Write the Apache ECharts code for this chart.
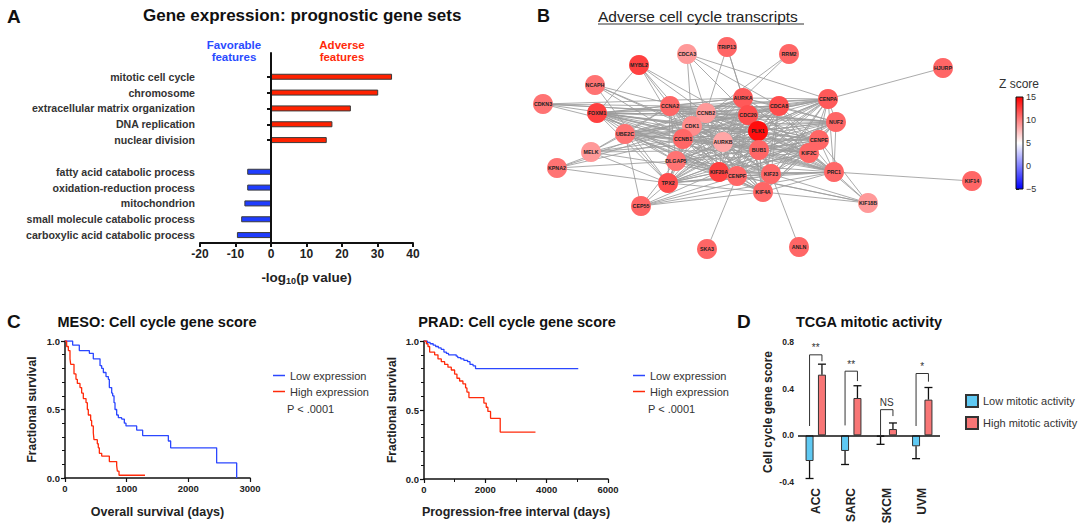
<!DOCTYPE html>
<html><head><meta charset="utf-8">
<script src="https://cdn.jsdelivr.net/npm/echarts@6/dist/echarts.min.js"></script>
<style>html,body{margin:0;padding:0;background:#fff}#c{width:1080px;height:527px}</style>
</head><body><div id="c"></div>
<script>
const FONT = 'Liberation Sans, Arial, Helvetica, sans-serif';

// ---------- Panel A: prognostic gene sets ----------
const goTerms = [' ', 'mitotic cell cycle', 'chromosome', 'extracellular matrix organization', 'DNA replication', 'nuclear division', '  ',
  'fatty acid catabolic process', 'oxidation-reduction process', 'mitochondrion', 'small molecule catabolic process', 'carboxylic acid catabolic process'];
const goLogP = ['-', 34.1, 30.2, 22.5, 17.3, 15.7, '-', -6.7, -6.7, -7.5, -8.4, -9.6];
const goTicks = [-20, -10, 0, 10, 20, 30, 40];

// ---------- Panel B: network ----------
const geneNames = ['MYBL2','CDCA3','TRIP13','RRM2','HJURP','NCAPH','CDKN3','FOXM1','CCNA2','CCNB2','AURKA','CDC20','CDCA8','CENPA','NUF2','CDK1','UBE2C','CCNB1','AURKB','PLK1','BUB1','CENPE','KIF2C','MELK','DLGAP5','KPNA2','KIF20A','CENPF','TPX2','KIF23','KIF4A','PRC1','KIF14','KIF18B','CEP55','SKA3','ANLN'];
const geneX = [639,687,727,789,943,595,543,597,670,706,743,748,779,828,836,692,625,683,723,758,759,819,809,591,676,557,719,737,668,771,763,834,972,868,641,707,799];
const geneY = [65,54,47,54,68,85,104,113,106,113,98,115,106,99,122,126,134,139,142,131,150,140,153,152,161,168,172,176,183,174,192,172,181,203,206,249,247];
const geneZ = [12.5,9,11,11,11,10.5,10.5,12.5,11,9,11.5,12,12,11.5,11,9.5,10.5,11,8.5,14.5,11,11,11,9,10.5,10.5,12.5,11,12,11,11,11,11,9,11,11,11];
// genes that are all mutually linked in the central cluster
const coreGenes = ['CCNA2','CCNB2','CDK1','CCNB1','AURKA','CDC20','PLK1','BUB1','AURKB','CDCA8','CENPA','NUF2','CENPE','KIF2C','KIF20A','CENPF','KIF23','DLGAP5','TPX2','UBE2C','KIF4A','FOXM1','PRC1'];
const extraLinks = [
  ['MYBL2','FOXM1'],['MYBL2','CCNA2'],['MYBL2','CDK1'],['MYBL2','CCNB1'],['MYBL2','CCNB2'],['MYBL2','PLK1'],
  ['CDCA3','CCNB2'],['CDCA3','CDK1'],['CDCA3','CDC20'],['CDCA3','CDCA8'],['CDCA3','CENPA'],
  ['TRIP13','CCNB2'],['TRIP13','AURKA'],['TRIP13','CDC20'],
  ['RRM2','AURKA'],['RRM2','CDK1'],
  ['HJURP','CENPA'],
  ['NCAPH','CCNB2'],['NCAPH','CDK1'],['NCAPH','AURKB'],['NCAPH','CCNB1'],['NCAPH','TPX2'],
  ['CDKN3','CCNA2'],['CDKN3','CDK1'],['CDKN3','CCNB2'],['CDKN3','CDC20'],['CDKN3','AURKA'],['CDKN3','CCNB1'],
  ['MELK','CCNB1'],['MELK','CDK1'],['MELK','AURKB'],['MELK','TPX2'],['MELK','KIF20A'],['MELK','BUB1'],['MELK','UBE2C'],['MELK','CCNA2'],
  ['KPNA2','TPX2'],['KPNA2','CCNB1'],['KPNA2','CDK1'],['KPNA2','DLGAP5'],['KPNA2','AURKA'],
  ['CEP55','TPX2'],['CEP55','KIF20A'],['CEP55','DLGAP5'],['CEP55','CENPF'],['CEP55','KIF23'],['CEP55','KIF4A'],['CEP55','UBE2C'],['CEP55','PRC1'],
  ['SKA3','CENPF'],['ANLN','KIF23'],['KIF14','PRC1'],
  ['KIF18B','PRC1'],['KIF18B','KIF4A'],['KIF18B','KIF23'],['KIF18B','CENPE'],['KIF18B','KIF2C'],['KIF18B','KIF20A'],['KIF18B','CENPF']
];
const zRange = [-5, 15];

// ---------- Panel C: Kaplan-Meier ----------
const mesoLowDays = [0,124,232,395,459,568,595,622,665,703,719,757,773,795,811,838,865,919,962,989,1162,1259,1676,1713,2459,2784];
const mesoLowSurv = [1,0.97,0.93,0.91,0.87,0.82,0.80,0.77,0.74,0.72,0.66,0.62,0.60,0.55,0.50,0.46,0.44,0.43,0.40,0.38,0.35,0.31,0.27,0.22,0.11,0];
const mesoHighDays = [0,27,54,81,92,146,178,200,243,270,297,341,362,378,416,432,459,470,524,540,557,595,719,838,849,876,1297];
const mesoHighSurv = [1,0.96,0.93,0.87,0.83,0.76,0.72,0.69,0.66,0.62,0.58,0.55,0.50,0.46,0.42,0.38,0.33,0.28,0.25,0.22,0.18,0.16,0.12,0.09,0.05,0.02,0.02];
const pradLowDays = [0,110,200,300,380,470,560,650,730,800,1050,1100,1200,1300,1420,1500,1600,1680,5030];
const pradLowSurv = [1,0.99,0.98,0.97,0.96,0.95,0.94,0.92,0.91,0.90,0.89,0.88,0.87,0.86,0.85,0.83,0.82,0.80,0.80];
const pradHighDays = [0,76,130,184,347,456,564,673,781,890,998,1074,1161,1269,1356,1400,1465,1953,2029,2083,2170,2485,3635];
const pradHighSurv = [1,0.98,0.96,0.92,0.90,0.87,0.85,0.83,0.81,0.79,0.76,0.73,0.71,0.69,0.66,0.63,0.59,0.55,0.52,0.49,0.44,0.34,0.34];

// ---------- Panel D: TCGA mitotic activity ----------
const tcgaTypes = ['ACC', 'SARC', 'SKCM', 'UVM'];
const lowMean = [-0.22, -0.134, -0.014, -0.094];
const lowSem = [0.15, 0.116, 0.063, 0.106];
const highMean = [0.52, 0.32, 0.054, 0.306];
const highSem = [0.09, 0.105, 0.052, 0.104];
const bracketTop = [0.69, 0.55, 0.22, 0.53];
const bracketLeftFoot = [0.08, 0.085, -0.01, 0.08];
const bracketRightFoot = [0.635, 0.465, 0.165, 0.46];
const sigLabels = ['**', '**', 'NS', '*'];

// ---------- helpers ----------
function zColor(z) {
  const mid = (zRange[0] + zRange[1]) / 2;
  if (z >= mid) {
    const t = Math.min(1, (z - mid) / (zRange[1] - mid));
    const g = Math.round(255 * (1 - t));
    return 'rgb(255,' + g + ',' + g + ')';
  }
  const t = Math.min(1, (mid - z) / (mid - zRange[0]));
  const g = Math.round(255 * (1 - t));
  return 'rgb(' + g + ',' + g + ',255)';
}
const zip = (a, b) => a.map((v, i) => [v, b[i]]);

const links = [];
for (let i = 0; i < coreGenes.length; i++)
  for (let j = i + 1; j < coreGenes.length; j++) links.push({ source: coreGenes[i], target: coreGenes[j] });
extraLinks.forEach(p => links.push({ source: p[0], target: p[1] }));

const BLUE = '#2b47ff', RED = '#ff2a0a';
const axisBlack = { lineStyle: { color: '#111', width: 1.5 } };
const boldLab = (size) => ({ fontFamily: FONT, fontWeight: 'bold', fontSize: size, color: '#222' });
const BAR_W = 8, BAR_GAP = 0.55;
const barOffset = (BAR_W + BAR_W * BAR_GAP) / 2;
const plain = v => String(v);

function txt(text, x, y, font, fill, align) {
  return { type: 'text', x: x, y: y, silent: true,
    style: { text: text, font: font, fill: fill || '#111', textAlign: align || 'left', textVerticalAlign: 'middle', align: align || 'left', verticalAlign: 'middle' } };
}

const chart = echarts.init(document.getElementById('c'), null, { renderer: 'svg', width: 1080, height: 527 });

const gridBase = { containLabel: false, outerBoundsMode: 'none' };

const option = {
  animation: false,
  backgroundColor: '#fff',
  textStyle: { fontFamily: FONT },
  grid: [
    Object.assign({ left: 200, top: 53, width: 213, height: 190 }, gridBase),
    Object.assign({ left: 520, top: 30, width: 480, height: 240 }, gridBase),
    Object.assign({ left: 1016, top: 97, width: 7, height: 92 }, gridBase),
    Object.assign({ left: 65, top: 341, width: 185, height: 137 }, gridBase),
    Object.assign({ left: 424, top: 341, width: 184, height: 138 }, gridBase),
    Object.assign({ left: 798, top: 342, width: 142, height: 140 }, gridBase)
  ],
  xAxis: [
    { type: 'value', gridIndex: 0, min: goTicks[0], max: goTicks[goTicks.length - 1], interval: 10,
      splitLine: { show: false },
      axisLine: { show: true, lineStyle: { color: '#111', width: 2 } },
      axisTick: { show: true, length: 4, lineStyle: { color: '#111', width: 2 } },
      axisLabel: Object.assign(boldLab(12), { margin: 5 }),
      name: '{a|-log}{s|10}{a|(p value)}', nameLocation: 'middle', nameGap: 26,
      nameTextStyle: { rich: {
        a: { fontFamily: FONT, fontWeight: 'bold', fontSize: 13.5, color: '#222' },
        s: { fontFamily: FONT, fontWeight: 'bold', fontSize: 9, color: '#222', padding: [7, 0, 0, 0] } } } },
    { type: 'value', gridIndex: 1, min: 520, max: 1000, show: false },
    { type: 'value', gridIndex: 2, min: 0, max: 1, show: false },
    { type: 'value', gridIndex: 3, min: 0, max: 3000, interval: 1000, splitLine: { show: false },
      axisLine: axisBlack, axisTick: { length: 4, lineStyle: { color: '#111', width: 1.2 } },
      minorTick: { show: false },
      axisLabel: Object.assign(boldLab(9.5), { margin: 5, formatter: plain }),
      name: 'Overall survival (days)', nameLocation: 'middle', nameGap: 27, nameTextStyle: boldLab(12.5) },
    { type: 'value', gridIndex: 4, min: 0, max: 6000, interval: 2000, splitLine: { show: false },
      axisLine: axisBlack, axisTick: { length: 4, lineStyle: { color: '#111', width: 1.2 } },
      minorTick: { show: true, splitNumber: 2, length: 3, lineStyle: { color: '#111', width: 1 } },
      axisLabel: Object.assign(boldLab(9.5), { margin: 5, formatter: plain }),
      name: 'Progression-free interval (days)', nameLocation: 'middle', nameGap: 26, nameTextStyle: boldLab(12.5) },
    { type: 'category', gridIndex: 5, data: tcgaTypes, position: 'bottom',
      axisLine: { show: false, onZero: false }, axisTick: { show: false },
      axisLabel: Object.assign(boldLab(12), { rotate: 90, margin: 6 }) }
  ],
  yAxis: [
    { type: 'category', gridIndex: 0, data: goTerms, inverse: true,
      axisLine: { show: true, lineStyle: { color: '#111', width: 2 } },
      axisTick: { show: true, length: 4, alignWithLabel: true, interval: (i, v) => String(v).trim() !== '', lineStyle: { color: '#111', width: 2 } },
      axisLabel: Object.assign(boldLab(10.6), { color: '#333', margin: 5, interval: 0 }) },
    { type: 'value', gridIndex: 1, min: 30, max: 270, inverse: true, show: false },
    { type: 'value', gridIndex: 2, min: zRange[0], max: zRange[1], interval: 5, position: 'right',
      splitLine: { show: false }, axisLine: { show: false },
      axisTick: { show: true, length: 3, lineStyle: { color: '#222', width: 1 } },
      axisLabel: { fontFamily: FONT, fontSize: 9, color: '#333', margin: 3, formatter: v => v < 0 ? '\u2212' + Math.abs(v) : String(v) } },
    { type: 'value', gridIndex: 3, min: 0, max: 1, interval: 0.5, splitLine: { show: false },
      axisLine: axisBlack, axisTick: { length: 4, lineStyle: { color: '#111', width: 1.2 } },
      minorTick: { show: true, splitNumber: 5, length: 3, lineStyle: { color: '#111', width: 1 } },
      axisLabel: Object.assign(boldLab(9.5), { margin: 5, formatter: v => v.toFixed(1) }),
      name: 'Fractional survival', nameLocation: 'middle', nameRotate: 90, nameGap: 27, nameTextStyle: boldLab(12) },
    { type: 'value', gridIndex: 4, min: 0, max: 1, interval: 0.5, splitLine: { show: false },
      axisLine: axisBlack, axisTick: { length: 4, lineStyle: { color: '#111', width: 1.2 } },
      minorTick: { show: true, splitNumber: 5, length: 3, lineStyle: { color: '#111', width: 1 } },
      axisLabel: Object.assign(boldLab(9.5), { margin: 5, formatter: v => v.toFixed(1) }),
      name: 'Fractional survival', nameLocation: 'middle', nameRotate: 90, nameGap: 26, nameTextStyle: boldLab(12) },
    { type: 'value', gridIndex: 5, min: -0.4, max: 0.8, interval: 0.4, splitLine: { show: false },
      axisLine: axisBlack, axisTick: { length: 4, lineStyle: { color: '#111', width: 1.2 } },
      axisLabel: Object.assign(boldLab(8.5), { margin: 4, formatter: v => v.toFixed(1) }),
      name: 'Cell cycle gene score', nameLocation: 'middle', nameRotate: 90, nameGap: 24, nameTextStyle: boldLab(12) }
  ],
  legend: [
    { left: 268, top: 365, orient: 'vertical', selectedMode: false, data: ['Low expression', 'High expression'],
      icon: 'rect', itemWidth: 12, itemHeight: 1.5, itemGap: 5, textStyle: { fontFamily: FONT, fontSize: 11, color: '#333' } },
    { left: 628, top: 365, orient: 'vertical', selectedMode: false, data: ['Low expression', 'High expression'],
      icon: 'rect', itemWidth: 12, itemHeight: 1.5, itemGap: 5, textStyle: { fontFamily: FONT, fontSize: 11, color: '#333' } },
    { left: 960, top: 389, orient: 'vertical', selectedMode: false, data: ['Low mitotic activity', 'High mitotic activity'],
      icon: 'rect', itemWidth: 12, itemHeight: 12, itemGap: 8, textStyle: { fontFamily: FONT, fontSize: 11, color: '#333' } }
  ],
  series: [
    // Panel A
    { type: 'bar', xAxisIndex: 0, yAxisIndex: 0, barWidth: 6,
      data: goLogP.map(v => v === '-' ? '-' : { value: v, itemStyle: { color: v > 0 ? '#ff2200' : '#1f3dff' } }),
      itemStyle: { borderColor: '#3a3a3a', borderWidth: 1 },
      markLine: { silent: true, symbol: 'none', label: { show: false },
        lineStyle: { color: '#111', width: 2, type: 'solid' }, data: [{ xAxis: 0 }] } },
    // Panel B network
    { type: 'graph', coordinateSystem: 'cartesian2d', xAxisIndex: 1, yAxisIndex: 1,
      symbolSize: 20, silent: true,
      data: geneNames.map((n, i) => ({ name: n, value: [geneX[i], geneY[i]], itemStyle: { color: zColor(geneZ[i]) } })),
      links: links,
      lineStyle: { color: '#9c9c9c', width: 1, opacity: 0.85, curveness: 0 },
      label: { show: true, position: 'inside', fontSize: 5.3, fontWeight: 'bold', color: '#222', fontFamily: FONT } },
    // Panel B colour bar
    { type: 'custom', xAxisIndex: 2, yAxisIndex: 2, silent: true, data: [[0, zRange[0], 1, zRange[1]]],
      renderItem: function (params, api) {
        const p0 = api.coord([api.value(0), api.value(1)]);
        const p1 = api.coord([api.value(2), api.value(3)]);
        return { type: 'rect', shape: { x: p0[0], y: p1[1], width: p1[0] - p0[0], height: p0[1] - p1[1] },
          style: { fill: new echarts.graphic.LinearGradient(0, 1, 0, 0, [
            { offset: 0, color: '#0000ff' }, { offset: 0.5, color: '#ffffff' }, { offset: 1, color: '#ff0000' }]),
            stroke: '#111', lineWidth: 1 } };
      } },
    // Panel C
    { type: 'line', name: 'Low expression', xAxisIndex: 3, yAxisIndex: 3, step: 'end', symbol: 'none',
      data: zip(mesoLowDays, mesoLowSurv), lineStyle: { color: BLUE, width: 1.3 }, itemStyle: { color: BLUE } },
    { type: 'line', name: 'High expression', xAxisIndex: 3, yAxisIndex: 3, step: 'end', symbol: 'none',
      data: zip(mesoHighDays, mesoHighSurv), lineStyle: { color: RED, width: 1.3 }, itemStyle: { color: RED } },
    { type: 'line', name: 'Low expression', xAxisIndex: 4, yAxisIndex: 4, step: 'end', symbol: 'none',
      data: zip(pradLowDays, pradLowSurv), lineStyle: { color: BLUE, width: 1.3 }, itemStyle: { color: BLUE } },
    { type: 'line', name: 'High expression', xAxisIndex: 4, yAxisIndex: 4, step: 'end', symbol: 'none',
      data: zip(pradHighDays, pradHighSurv), lineStyle: { color: RED, width: 1.3 }, itemStyle: { color: RED } },
    // Panel D bars
    { type: 'bar', name: 'Low mitotic activity', xAxisIndex: 5, yAxisIndex: 5, data: lowMean, barWidth: BAR_W, barGap: (BAR_GAP * 100) + '%',
      itemStyle: { color: '#5fc9f3', borderColor: '#333', borderWidth: 1 },
      markLine: { silent: true, symbol: 'none', label: { show: false },
        lineStyle: { color: '#111', width: 1.5, type: 'solid' }, data: [{ yAxis: 0 }] } },
    { type: 'bar', name: 'High mitotic activity', xAxisIndex: 5, yAxisIndex: 5, data: highMean, barWidth: BAR_W,
      itemStyle: { color: '#f87676', borderColor: '#333', borderWidth: 1 } },
    // Panel D error bars
    { type: 'custom', xAxisIndex: 5, yAxisIndex: 5, silent: true, z: 5,
      data: tcgaTypes.map((t, i) => [i, lowMean[i], lowSem[i], -1]).concat(tcgaTypes.map((t, i) => [i, highMean[i], highSem[i], 1])),
      renderItem: function (params, api) {
        const dir = api.value(3);
        const m = api.value(1), s = api.value(2);
        const a = api.coord([api.value(0), m]);
        const b = api.coord([api.value(0), m + dir * s]);
        const x = a[0] + dir * barOffset;
        const st = { stroke: '#111', lineWidth: 1.3 };
        return { type: 'group', children: [
          { type: 'line', shape: { x1: x, y1: a[1], x2: x, y2: b[1] }, style: st },
          { type: 'line', shape: { x1: x - BAR_W / 2, y1: b[1], x2: x + BAR_W / 2, y2: b[1] }, style: st }] };
      } },
    // Panel D significance brackets
    { type: 'custom', xAxisIndex: 5, yAxisIndex: 5, silent: true, z: 5,
      data: tcgaTypes.map((t, i) => [i, bracketTop[i], bracketLeftFoot[i], bracketRightFoot[i]]),
      renderItem: function (params, api) {
        const c = api.value(0);
        const top = api.coord([c, api.value(1)]);
        const lf = api.coord([c, api.value(2)]);
        const rf = api.coord([c, api.value(3)]);
        const xl = top[0] - barOffset, xr = top[0] + barOffset;
        return { type: 'group', children: [
          { type: 'polyline', shape: { points: [[xl, lf[1]], [xl, top[1]], [xr, top[1]], [xr, rf[1]]] },
            style: { stroke: '#333', lineWidth: 1, fill: null } },
          { type: 'text', x: top[0], y: top[1] - 2,
            style: { text: sigLabels[params.dataIndex], font: '10px ' + FONT, fill: '#333',
              textAlign: 'center', textVerticalAlign: 'bottom', align: 'center', verticalAlign: 'bottom' } }] };
      } }
  ],
  graphic: [
    txt('A', 7, 16, 'bold 19px ' + FONT, '#111'),
    txt('Gene expression: prognostic gene sets', 143, 15, 'bold 17px ' + FONT, '#111'),
    txt('Favorable', 234, 45, 'bold 11.5px ' + FONT, '#2a4bff', 'center'),
    txt('features', 234, 57, 'bold 11.5px ' + FONT, '#2a4bff', 'center'),
    txt('Adverse', 342, 45, 'bold 11.5px ' + FONT, '#ff2a0a', 'center'),
    txt('features', 342, 57, 'bold 11.5px ' + FONT, '#ff2a0a', 'center'),
    txt('B', 537, 16, 'bold 18px ' + FONT, '#111'),
    txt('Adverse cell cycle transcripts', 598, 16, '15.5px ' + FONT, '#222'),
    { type: 'line', silent: true, shape: { x1: 598, y1: 24, x2: 804, y2: 24 }, style: { stroke: '#333', lineWidth: 1 } },
    txt('Z score', 1019, 84, '12px ' + FONT, '#333', 'center'),
    txt('C', 7, 321, 'bold 19px ' + FONT, '#111'),
    txt('MESO: Cell cycle gene score', 157, 322, 'bold 14.5px ' + FONT, '#111', 'center'),
    txt('P < .0001', 287, 409, '11px ' + FONT, '#333'),
    txt('PRAD: Cell cycle gene score', 517, 322, 'bold 14.5px ' + FONT, '#111', 'center'),
    txt('P < .0001', 648, 409, '11px ' + FONT, '#333'),
    txt('D', 737, 321, 'bold 19px ' + FONT, '#111'),
    txt('TCGA mitotic activity', 869, 322, 'bold 14.5px ' + FONT, '#111', 'center')
  ]
};
chart.setOption(option);
</script>
</body></html>
